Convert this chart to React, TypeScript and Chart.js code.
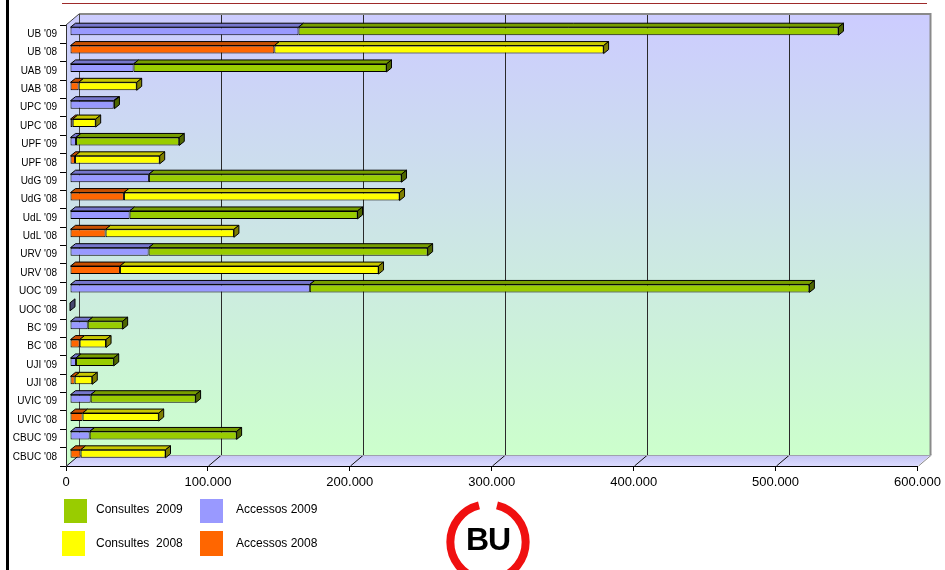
import React, { useEffect, useRef } from "react";
import { Chart, registerables } from "chart.js";

Chart.register(...registerables);

// ---------- data ----------
const categories = [
  "UB '09", "UB '08", "UAB '09", "UAB '08", "UPC '09", "UPC '08",
  "UPF '09", "UPF '08", "UdG '09", "UdG '08", "UdL '09", "UdL '08",
  "URV '09", "URV '08", "UOC '09", "UOC '08", "BC '09", "BC '08",
  "UJI '09", "UJI '08", "UVIC '09", "UVIC '08", "CBUC '09", "CBUC '08",
];

const accessos2009 = [
  161000, null, 44800, null, 30800, null,
  4200, null, 55600, null, 42000, null,
  55400, null, 169000, null, 12500, null,
  4200, null, 14600, null, 13900, null,
];
const consultes2009 = [
  380500, null, 178200, null, 500, null,
  72800, null, 178000, null, 160600, null,
  196600, null, 352000, null, 24600, null,
  26600, null, 73900, null, 103500, null,
];
const accessos2008 = [
  null, 144000, null, 6100, null, 1900,
  null, 3500, null, 38000, null, 25100,
  null, 35200, null, 0, null, 6800,
  null, 3300, null, 8900, null, 7500,
];
const consultes2008 = [
  null, 232000, null, 40900, null, 16200,
  null, 59700, null, 194200, null, 90400,
  null, 182200, null, 0, null, 18600,
  null, 12400, null, 53600, null, 59800,
];

const xMin = 0;
const xMax = 600000;
const xStep = 100000;

const seriesNames = ["Accessos 2009", "Consultes  2009", "Accessos 2008", "Consultes  2008"];
const frontColors = ["#9999FF", "#99CC00", "#FF6600", "#FFFF00"];
const topColors = ["#7676CC", "#779E00", "#C85000", "#C8C800"];
const sideColors = ["#4C4C80", "#4E6600", "#803300", "#7F7F00"];

const fmt = (v: number) => String(Math.round(v)).replace(/\B(?=(\d{3})+(?!\d))/g, ".");

// ---------- 3D geometry ----------
const WDX = 13, WDY = 11; // wall depth
const BOX = 4, BOY = 3;   // bar front offset into the depth
const BDX = 5, BDY = 4;   // bar depth

const threeD = {
  id: "threeD",
  beforeDraw(chart: any) {
    const { ctx, chartArea: a, scales } = chart;
    const x = scales.x;
    ctx.save();
    const grad = ctx.createLinearGradient(0, a.top - WDY, 0, a.bottom - WDY);
    grad.addColorStop(0, "#CCCCFF");
    grad.addColorStop(1, "#CCFFCC");
    ctx.fillStyle = grad;
    ctx.fillRect(a.left + WDX, a.top - WDY, a.right - a.left, a.bottom - a.top);
    ctx.beginPath();
    ctx.moveTo(a.left, a.top);
    ctx.lineTo(a.left + WDX, a.top - WDY);
    ctx.lineTo(a.left + WDX, a.bottom - WDY);
    ctx.lineTo(a.left, a.bottom);
    ctx.closePath();
    ctx.fill();
    const fg = ctx.createLinearGradient(0, a.bottom - WDY, 0, a.bottom);
    fg.addColorStop(0, "#C4C4F4");
    fg.addColorStop(1, "#DCDCFF");
    ctx.fillStyle = fg;
    ctx.beginPath();
    ctx.moveTo(a.left, a.bottom);
    ctx.lineTo(a.left + WDX, a.bottom - WDY);
    ctx.lineTo(a.right + WDX, a.bottom - WDY);
    ctx.lineTo(a.right, a.bottom);
    ctx.closePath();
    ctx.fill();

    ctx.lineWidth = 1;
    for (let v = xMin; v <= xMax; v += xStep) {
      const px = Math.round(x.getPixelForValue(v)) + 0.5;
      if (v > xMin && v < xMax) {
        ctx.strokeStyle = "#2a2a2a";
        ctx.beginPath();
        ctx.moveTo(px + WDX, a.top - WDY);
        ctx.lineTo(px + WDX, a.bottom - WDY);
        ctx.stroke();
      }
      ctx.strokeStyle = v === xMax ? "#888888" : "#111111";
      ctx.beginPath();
      ctx.moveTo(px, a.bottom);
      ctx.lineTo(px + WDX, a.bottom - WDY);
      ctx.stroke();
    }
    ctx.strokeStyle = "#8a8a8a";
    ctx.lineWidth = 2;
    ctx.beginPath();
    ctx.moveTo(a.left + WDX, a.top - WDY);
    ctx.lineTo(a.right + WDX, a.top - WDY);
    ctx.lineTo(a.right + WDX, a.bottom - WDY);
    ctx.stroke();
    ctx.strokeStyle = "#a0a0b0";
    ctx.lineWidth = 1;
    ctx.beginPath();
    ctx.moveTo(a.left + WDX, a.bottom - WDY + 0.5);
    ctx.lineTo(a.right + WDX, a.bottom - WDY + 0.5);
    ctx.stroke();
    ctx.strokeStyle = "#444444";
    ctx.beginPath();
    ctx.moveTo(Math.round(a.left + WDX) + 0.5, a.top - WDY);
    ctx.lineTo(Math.round(a.left + WDX) + 0.5, a.bottom - WDY);
    ctx.moveTo(a.left, a.top);
    ctx.lineTo(a.left + WDX, a.top - WDY);
    ctx.stroke();
    ctx.restore();
  },
  beforeDatasetsDraw(chart: any) {
    chart.ctx.save();
    chart.ctx.translate(BOX, -BOY);
  },
  afterDatasetsDraw(chart: any) {
    const ctx = chart.ctx;
    ctx.lineWidth = 1;
    ctx.strokeStyle = "#000";
    ctx.lineJoin = "round";
    for (let i = 0; i < categories.length; i++) {
      const segs: any[] = [];
      chart.data.datasets.forEach((ds: any, di: number) => {
        const v = ds.data[i];
        if (v === null || v === undefined) return;
        const el = chart.getDatasetMeta(di).data[i];
        const p = el.getProps(["x", "y", "base", "height"], true);
        segs.push({
          x0: Math.min(p.x, p.base),
          x1: Math.max(p.x, p.base),
          top: p.y - p.height / 2,
          bot: p.y + p.height / 2,
          di,
        });
      });
      if (!segs.length) continue;
      for (const s of segs) {
        if (s.x1 - s.x0 <= 0) continue;
        ctx.fillStyle = topColors[s.di];
        ctx.beginPath();
        ctx.moveTo(s.x0, s.top);
        ctx.lineTo(s.x0 + BDX, s.top - BDY);
        ctx.lineTo(s.x1 + BDX, s.top - BDY);
        ctx.lineTo(s.x1, s.top);
        ctx.closePath();
        ctx.fill();
        ctx.stroke();
      }
      const last = segs.reduce((a: any, b: any) => (b.x1 >= a.x1 ? b : a));
      const empty = segs.every((s: any) => s.x1 - s.x0 <= 0);
      ctx.fillStyle = empty ? "#474770" : sideColors[last.di];
      ctx.beginPath();
      ctx.moveTo(last.x1, last.top);
      ctx.lineTo(last.x1 + BDX, last.top - BDY);
      ctx.lineTo(last.x1 + BDX, last.bot - BDY);
      ctx.lineTo(last.x1, last.bot);
      ctx.closePath();
      ctx.fill();
      ctx.stroke();
    }
    ctx.restore();
  },
};

const FONT = "'Liberation Sans', Arial, Helvetica, sans-serif";

export default function App() {
  const ref = useRef<HTMLCanvasElement | null>(null);

  useEffect(() => {
    if (!ref.current) return;
    const series = [accessos2009, consultes2009, accessos2008, consultes2008];
    const chart = new Chart(ref.current, {
      type: "bar",
      data: {
        labels: categories,
        datasets: series.map((d, k) => ({
          label: seriesNames[k],
          data: d as any,
          backgroundColor: frontColors[k],
          borderColor: "#000000",
          borderWidth: 1,
          borderSkipped: false,
          inflateAmount: 0,
          stack: "s",
          barPercentage: 0.435,
          categoryPercentage: 1,
          clip: false as any,
        })),
      },
      options: {
        indexAxis: "y",
        responsive: false,
        animation: false,
        devicePixelRatio: 1,
        layout: { padding: { left: 0, right: 26, top: 25, bottom: 74 } },
        plugins: {
          legend: { display: false },
          tooltip: { enabled: false },
        },
        scales: {
          x: {
            type: "linear",
            stacked: true,
            min: xMin,
            max: xMax,
            afterFit: (s: any) => { s.height = 30; },
            ticks: {
              stepSize: xStep,
              color: "#000",
              padding: 4,
              maxRotation: 0,
              font: { family: FONT, size: 13 },
              callback: (v: any) => fmt(Number(v)),
            },
            grid: { drawOnChartArea: false, drawTicks: true, tickLength: 5, color: "#000" },
            border: { display: true, color: "#000", width: 1 },
          },
          y: {
            type: "category",
            stacked: true,
            offset: true,
            afterFit: (s: any) => { s.width = 66; },
            ticks: {
              color: "#000",
              padding: 3,
              font: { family: FONT, size: 10 },
              autoSkip: false,
            },
            grid: { offset: true, drawOnChartArea: false, drawTicks: true, tickLength: 6, color: "#000" },
            border: { display: true, color: "#333", width: 1 },
          },
        },
      },
      plugins: [threeD],
    });
    return () => chart.destroy();
  }, []);

  const legendText: React.CSSProperties = {
    position: "absolute",
    fontFamily: FONT,
    fontSize: 12,
    color: "#000",
    whiteSpace: "pre",
    lineHeight: "14px",
  };

  return (
    <div style={{ position: "absolute", left: 0, top: 0, width: 945, height: 570, background: "#fff", overflow: "hidden" }}>
      <canvas ref={ref} width={945} height={570} style={{ position: "absolute", left: 0, top: 0, width: 945, height: 570 }} />
      <div style={{ position: "absolute", left: 6, top: 0, width: 3, height: 570, background: "#000" }} />
      <div style={{ position: "absolute", left: 62, top: 3, width: 865, height: 1, background: "#9E2A2A" }} />

      <div style={{ position: "absolute", left: 64, top: 499, width: 23, height: 24, background: frontColors[1] }} />
      <div style={{ ...legendText, left: 96, top: 502 }}>{seriesNames[1]}</div>
      <div style={{ position: "absolute", left: 200, top: 499, width: 23, height: 24, background: frontColors[0] }} />
      <div style={{ ...legendText, left: 236, top: 502 }}>{seriesNames[0]}</div>
      <div style={{ position: "absolute", left: 62, top: 531, width: 23, height: 25, background: frontColors[3] }} />
      <div style={{ ...legendText, left: 96, top: 536 }}>{seriesNames[3]}</div>
      <div style={{ position: "absolute", left: 200, top: 531, width: 23, height: 25, background: frontColors[2] }} />
      <div style={{ ...legendText, left: 236, top: 536 }}>{seriesNames[2]}</div>

      <svg style={{ position: "absolute", left: 430, top: 490 }} width={120} height={80}>
        <path
          d="M 49 15.4 A 37.7 37.7 0 0 0 49 88.6 M 67 15.4 A 37.7 37.7 0 0 1 67 88.6"
          fill="none"
          stroke="#F01010"
          strokeWidth={8}
        />
        <text
          x={58}
          y={60}
          textAnchor="middle"
          fontFamily={FONT}
          fontWeight="bold"
          fontSize={32}
          fill="#000"
          letterSpacing={-1}
        >
          BU
        </text>
      </svg>
    </div>
  );
}
